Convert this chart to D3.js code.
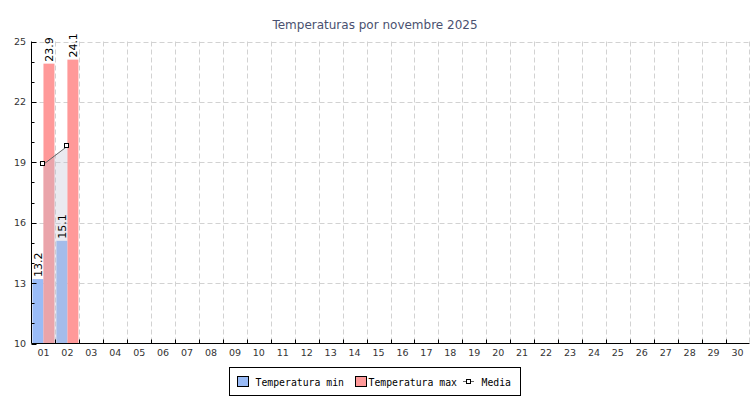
<!DOCTYPE html>
<html><head><meta charset="utf-8">
<script src="https://cdn.jsdelivr.net/npm/d3@7"></script>
<style>body{margin:0;background:#fff}svg{display:block}</style>
</head><body><svg id="c" width="750" height="400"></svg>
<script>
const days = d3.range(1,31).map(d => String(d).padStart(2,"0"));
const tempMin = [13.2, 15.1];
const tempMax = [23.9, 24.1];
const media = [18.9, 19.8];
const yTicks = [10, 13, 16, 19, 22, 25];
const title = "Temperaturas por novembre 2025";
const legendLabels = ["Temperatura min", "Temperatura max", "Media"];

const svg = d3.select("#c");
const L = 31.5, R = 749.5, T = 41.5, B = 343.5;
const x = d3.scaleBand().domain(days).range([L, R]);
const y = d3.scaleLinear().domain([10, 25]).range([B, T]);
const bw = x.bandwidth();
const barW = 11;

svg.append("text").attr("x", 375).attr("y", 29).attr("text-anchor","middle")
  .attr("font-family","DejaVu Sans").attr("font-size",12).attr("fill","#4a5170").text(title);

// grid
const grid = svg.append("g").attr("stroke", "#d2d2d2").attr("stroke-dasharray","5,3").attr("stroke-width",1);
yTicks.slice(1).forEach(t => {
  grid.append("line").attr("x1", L).attr("x2", R).attr("y1", Math.round(y(t))+0.5).attr("y2", Math.round(y(t))+0.5);
});
days.slice(1).forEach(d => {
  const xx = Math.round(x(d)) + 0.5;
  grid.append("line").attr("x1", xx).attr("x2", xx).attr("y1", T).attr("y2", B);
});
grid.append("line").attr("x1", R).attr("x2", R).attr("y1", T).attr("y2", B);

// bars
const gBars = svg.append("g");
tempMin.forEach((v,i) => {
  const cx = x(days[i]) + bw/2;
  gBars.append("rect").attr("x", cx - barW).attr("width", barW)
    .attr("y", y(v)).attr("height", B - y(v)).attr("fill", "#99bbf7");
});
tempMax.forEach((v,i) => {
  const cx = x(days[i]) + bw/2;
  gBars.append("rect").attr("x", cx).attr("width", barW)
    .attr("y", y(v)).attr("height", B - y(v)).attr("fill", "#ff9999");
});

// media area
const pts = media.map((v,i) => [x(days[i]) + bw/2, v]);
const area = d3.area().x(d => d[0]).y0(y(10)).y1(d => y(d[1]));
svg.append("path").attr("d", area(pts)).attr("fill", "rgba(190,190,208,0.32)");

// media line & markers
const line = d3.line().x(d => d[0]).y(d => y(d[1]));
svg.append("path").attr("d", line(pts)).attr("fill","none").attr("stroke","#666").attr("stroke-width",1);
pts.forEach(p => {
  svg.append("rect").attr("x", Math.round(p[0]) - 2.5).attr("y", Math.round(y(p[1])) - 2.5)
    .attr("width", 4).attr("height", 4).attr("fill", "#fff").attr("stroke", "#000").attr("stroke-width", 1);
});

// value labels
const lab = svg.append("g").attr("font-family","DejaVu Sans").attr("font-size",11).attr("fill","#000");
function vlabel(cx, v){
  lab.append("text").attr("transform", `translate(${cx + 4},${y(v) - 2}) rotate(-90)`)
    .attr("text-anchor","start").text(v.toFixed(1));
}
tempMin.forEach((v,i) => vlabel(x(days[i]) + bw/2 - barW/2, v));
tempMax.forEach((v,i) => vlabel(x(days[i]) + bw/2 + barW/2, v));

// y axis
const ya = svg.append("g").attr("stroke","#000");
ya.append("line").attr("x1", L).attr("x2", L).attr("y1", T).attr("y2", B);
d3.range(10, 26).forEach(t => {
  const major = yTicks.includes(t);
  const yy = Math.round(y(t)) + 0.5;
  ya.append("line").attr("x1", L).attr("x2", L + (major ? 5 : 3)).attr("y1", yy).attr("y2", yy);
});
svg.append("g").attr("font-family","DejaVu Sans").attr("font-size",9.5).attr("fill","#333")
  .selectAll("text").data(yTicks).join("text")
  .attr("x", 26).attr("y", d => y(d) + 3.5).attr("text-anchor","end").text(d => d);

// x axis
const xa = svg.append("g").attr("stroke","#000");
xa.append("line").attr("x1", L).attr("x2", R).attr("y1", B).attr("y2", B);
days.forEach(d => {
  const xx = Math.round(x(d) + bw) + 0.5;
  xa.append("line").attr("x1", xx).attr("x2", xx).attr("y1", B - 4).attr("y2", B);
});
svg.append("g").attr("font-family","DejaVu Sans").attr("font-size",9.5).attr("fill","#333")
  .selectAll("text").data(days).join("text")
  .attr("x", d => x(d) + bw/2).attr("y", 356).attr("text-anchor","middle").text(d => d);

// legend
const lg = svg.append("g");
lg.append("rect").attr("x", 229.5).attr("y", 367.5).attr("width", 291).attr("height", 28)
  .attr("fill","#fff").attr("stroke","#000");
function ltxt(xp, s){
  lg.append("text").attr("x", xp).attr("y", 385.5).attr("fill","#000")
    .attr("font-family","DejaVu Sans Mono").attr("font-size",9.8).text(s);
}
lg.append("rect").attr("x", 237.5).attr("y", 376.5).attr("width", 11).attr("height", 10).attr("fill","#99bbf7").attr("stroke","#000");
ltxt(255.5, legendLabels[0]);
lg.append("rect").attr("x", 355.5).attr("y", 376.5).attr("width", 11).attr("height", 10).attr("fill","#ff9999").attr("stroke","#000");
ltxt(368.5, legendLabels[1]);
lg.append("line").attr("x1", 463).attr("x2", 474).attr("y1", 381.5).attr("y2", 381.5).attr("stroke","#666");
lg.append("rect").attr("x", 466.5).attr("y", 379.5).attr("width", 4).attr("height", 4).attr("fill","#fff").attr("stroke","#000");
ltxt(481.5, legendLabels[2]);
</script></body></html>
